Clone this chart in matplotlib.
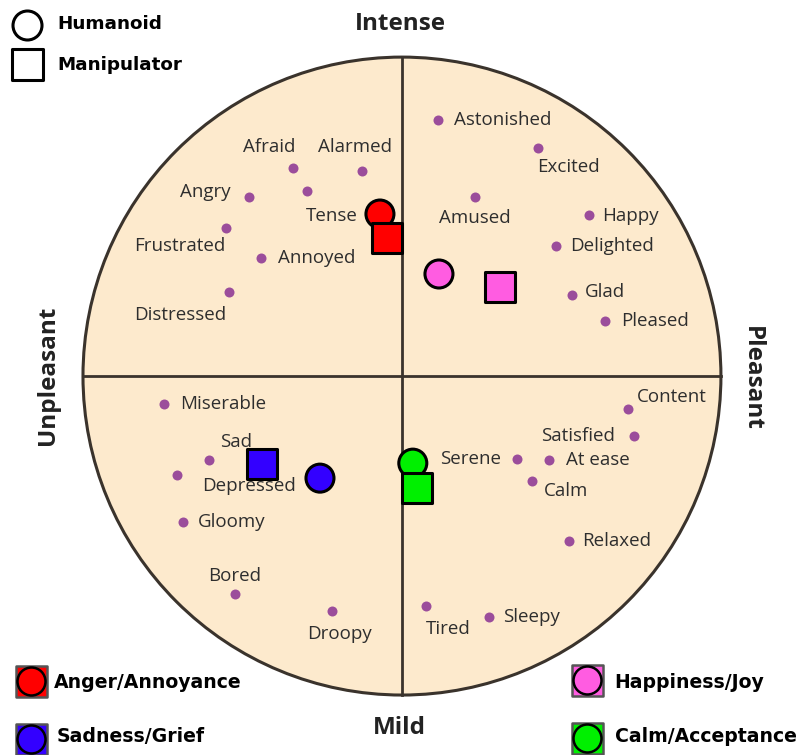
import matplotlib
matplotlib.use("Agg")
import matplotlib.pyplot as plt
from matplotlib.patches import Circle

# emotion words on the valence (x) / arousal (y) circle, scale -100..100
words = ["Astonished", "Excited", "Amused", "Happy", "Delighted", "Glad", "Pleased",
         "Afraid", "Alarmed", "Angry", "Tense", "Frustrated", "Annoyed", "Distressed",
         "Miserable", "Sad", "Depressed", "Gloomy", "Bored", "Droopy",
         "Content", "Satisfied", "Serene", "At ease", "Calm", "Relaxed", "Tired", "Sleepy"]
word_x = [11.3, 42.6, 22.9, 58.6, 48.3, 53.3, 63.6,
          -34.2, -12.5, -48.0, -29.8, -55.2, -44.2, -54.2,
          -74.6, -60.5, -70.5, -68.7, -52.4, -21.9,
          70.8, 72.7, 36.1, 46.1, 40.8, 52.4, 7.5, 27.3]
word_y = [80.3, 71.5, 56.1, 50.5, 40.8, 25.4, 17.2,
          65.2, 64.3, 56.1, 58.0, 46.4, 37.0, 26.3,
          -8.8, -26.3, -31.0, -45.8, -68.3, -73.7,
          -10.3, -18.8, -26.0, -26.3, -32.9, -51.7, -72.1, -75.5]

# recognised emotions: humanoid (circle) vs manipulator (square)
emotions = ["Anger/Annoyance", "Happiness/Joy", "Sadness/Grief", "Calm/Acceptance"]
colors = ["#ff0000", "#ff5ce1", "#3300ff", "#00f000"]
humanoid_x = [-6.9, 11.6, -25.7, 3.4]
humanoid_y = [50.8, 32.0, -32.0, -27.3]
manip_x = [-4.7, 30.7, -43.9, 4.7]
manip_y = [43.3, 27.9, -27.6, -35.1]

# label placement (pixel offset, alignment) per word
label_pos = {
    "Astonished": (16, 0, "left"), "Excited": (-1, 19, "left"), "Amused": (0, 21, "center"),
    "Happy": (13, 1, "left"), "Delighted": (14, 0, "left"), "Glad": (13, -3, "left"),
    "Pleased": (16, 0, "left"), "Afraid": (-24, -21, "center"), "Alarmed": (-7, -24, "center"),
    "Angry": (-18, -5, "right"), "Tense": (25, 25, "center"), "Frustrated": (-46, 18, "center"),
    "Annoyed": (17, 0, "left"), "Distressed": (-49, 23, "center"), "Miserable": (16, 0, "left"),
    "Sad": (27, -18, "center"), "Depressed": (72, 11, "center"), "Gloomy": (15, 0, "left"),
    "Bored": (0, -18, "center"), "Droopy": (7, 23, "center"), "Content": (9, -12, "left"),
    "Satisfied": (-19, 0, "right"), "Serene": (-16, 0, "right"), "At ease": (17, 0, "left"),
    "Calm": (12, 10, "left"), "Relaxed": (13, 0, "left"), "Tired": (22, 23, "center"),
    "Sleepy": (14, 0, "left"),
}

W, H = 802, 755
fig = plt.figure(figsize=(W / 100, H / 100), dpi=100)
ax = fig.add_axes([0, 0, 1, 1])
ax.set_xlim(-126.0, 125.4)
ax.set_ylim(-118.8, 117.9)
ax.set_aspect("equal")
ax.axis("off")

px = 0.72  # points per pixel
edge = "#3a332c"
ax.add_patch(Circle((0, 0), 100, facecolor="#fdeacd", edgecolor=edge, lw=2.2, zorder=1))
ax.plot([0, 0], [-100, 100], color=edge, lw=2.0, zorder=2)
ax.plot([-100, 100], [0, 0], color=edge, lw=2.0, zorder=2)

lab_font = "Open Sans"
ax.scatter(word_x, word_y, s=(10 * px) ** 2, color="#9b4d9b", zorder=3, linewidths=0)
for w, x, y in zip(words, word_x, word_y):
    dx, dy, ha = label_pos[w]
    ax.annotate(w, (x, y), xytext=(dx * px, -dy * px), textcoords="offset points",
                ha=ha, va="center", fontsize=13.5, color="#2e2e2e", family=lab_font, zorder=4)

ax.scatter(humanoid_x, humanoid_y, s=(28 * px) ** 2, c=colors, marker="o",
           edgecolors="black", linewidths=2.2, zorder=5)
ax.scatter(manip_x, manip_y, s=(30 * px) ** 2, c=colors, marker="s",
           edgecolors="black", linewidths=2.2, zorder=6)

# quadrant axis names
axis_kw = dict(fontsize=17.5, fontweight="bold", color="#222222", family=lab_font,
               transform=fig.transFigure, ha="center", va="center")
fig.text(400 / W, 1 - 24 / H, "Intense", **axis_kw)
fig.text(399 / W, 1 - 728 / H, "Mild", **axis_kw)
fig.text(48 / W, 1 - 375 / H, "Unpleasant", rotation=90, **axis_kw)
fig.text(752 / W, 1 - 378 / H, "Pleasant", rotation=270, **axis_kw)

# legends
leg_kw = dict(fontsize=13.2, fontweight="bold", family="DejaVu Sans", color="black",
              ha="left", va="center")
fig.text(57 / W, 1 - 24 / H, "Humanoid", **leg_kw)
fig.text(57 / W, 1 - 65 / H, "Manipulator", **leg_kw)
ax.scatter([27 / W], [1 - 25 / H], transform=fig.transFigure, s=(29 * px) ** 2, marker="o",
           facecolors="white", edgecolors="black", linewidths=2.2, clip_on=False)
ax.scatter([27 / W], [1 - 64 / H], transform=fig.transFigure, s=(31 * px) ** 2, marker="s",
           facecolors="white", edgecolors="black", linewidths=2.2, clip_on=False)

leg_kw["fontsize"] = 13.6
leg_xy = [(31, 681), (587, 680), (31, 739), (587, 738)]
leg_txt = [(54, 682), (614, 682), (57, 737), (615, 737)]
for name, col, (sx, sy), (tx, ty) in zip(emotions, colors, leg_xy, leg_txt):
    ax.scatter([sx / W], [1 - sy / H], transform=fig.transFigure, s=(31 * px) ** 2, marker="s",
               facecolors=col, edgecolors="#555555", linewidths=1.8, clip_on=False)
    ax.scatter([sx / W], [1 - sy / H], transform=fig.transFigure, s=(28 * px) ** 2, marker="o",
               facecolors=col, edgecolors="black", linewidths=1.8, clip_on=False)
    fig.text(tx / W, 1 - ty / H, name, **leg_kw)

fig.savefig("out.png", dpi=100, facecolor="white")
